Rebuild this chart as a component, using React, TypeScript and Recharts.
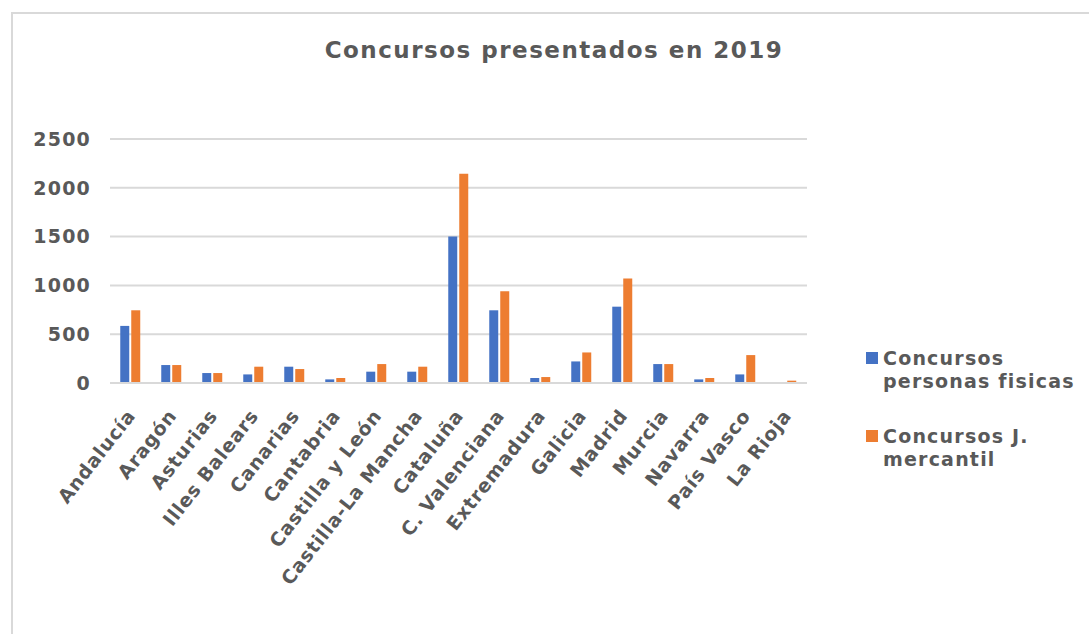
import React from 'react';
import { BarChart, Bar, XAxis, YAxis, CartesianGrid, Legend } from 'recharts';

const regions = [
  'Andalucía', 'Aragón', 'Asturias', 'Illes Balears', 'Canarias', 'Cantabria',
  'Castilla y León', 'Castilla-La Mancha', 'Cataluña', 'C. Valenciana', 'Extremadura',
  'Galicia', 'Madrid', 'Murcia', 'Navarra', 'País Vasco', 'La Rioja',
];
const personasFisicas = [585, 184, 102, 88, 167, 37, 116, 116, 1500, 745, 51, 221, 782, 194, 37, 88, 0];
const jMercantil = [745, 184, 102, 167, 143, 51, 194, 167, 2143, 939, 61, 313, 1071, 194, 51, 286, 24];
const yTicks = [0, 500, 1000, 1500, 2000, 2500];

const seriesNames = ['Concursos personas fisicas', 'Concursos J. mercantil'];
const legendLines: Record<string, string[]> = {
  'Concursos personas fisicas': ['Concursos', 'personas fisicas'],
  'Concursos J. mercantil': ['Concursos J.', 'mercantil'],
};

const data = regions.map((region, i) => ({
  region,
  personas: personasFisicas[i],
  mercantil: jMercantil[i],
}));

const FONT = '"DejaVu Sans", Verdana, sans-serif';
const TEXT = '#595959';

const RegionTick = (props: any) => {
  const { x, y, payload } = props;
  return (
    <g transform={`translate(${x + 6},${y + 31})`}>
      <text
        textAnchor="end"
        transform="rotate(-52)"
        fill={TEXT}
        fontFamily={FONT}
        fontWeight="bold"
        fontSize={19}
        letterSpacing={0.8}
      >
        {payload.value}
      </text>
    </g>
  );
};

const renderLegend = (props: any) => {
  const items = [...props.payload].sort(
    (a: any, b: any) => seriesNames.indexOf(a.value) - seriesNames.indexOf(b.value),
  );
  return (
    <div style={{ fontFamily: FONT, fontWeight: 'bold', fontSize: 19, letterSpacing: 1.2, color: TEXT, lineHeight: '23px' }}>
      {items.map((entry: any, i: number) => (
        <div key={entry.value} style={{ position: 'relative', paddingLeft: 17, marginTop: i === 0 ? 0 : 32 }}>
          <span style={{ position: 'absolute', left: 0, top: 5, width: 12, height: 12, background: entry.color }} />
          {(legendLines[entry.value] || [entry.value]).map((line) => (
            <div key={line} style={{ whiteSpace: 'nowrap' }}>{line}</div>
          ))}
        </div>
      ))}
    </div>
  );
};

export default function App() {
  return (
    <div style={{ position: 'absolute', left: 0, top: 0, width: 1089, height: 634, background: '#fff', overflow: 'hidden' }}>
      <div
        style={{
          position: 'absolute', left: 11, top: 12, width: 1200, height: 800,
          border: '2px solid #d9d9d9', boxSizing: 'border-box',
        }}
      />
      <div
        style={{
          position: 'absolute', left: 0, width: 1108, top: 37, textAlign: 'center',
          fontFamily: FONT, fontWeight: 'bold', fontSize: 23, letterSpacing: 1.5, color: TEXT,
        }}
      >
        Concursos presentados en 2019
      </div>
      <div style={{ position: 'absolute', left: 0, top: 0 }}>
        <BarChart
          width={1089}
          height={634}
          data={data}
          margin={{ top: 139, right: 62, bottom: 51, left: 0 }}
          barCategoryGap="25%"
          barGap={2}
        >
          <CartesianGrid vertical={false} stroke="#d9d9d9" strokeWidth={2} />
          <XAxis
            dataKey="region"
            interval={0}
            height={200}
            tickLine={false}
            tickSize={0}
            axisLine={{ stroke: '#d9d9d9', strokeWidth: 2 }}
            tick={<RegionTick />}
          />
          <YAxis
            width={110}
            domain={[0, 2500]}
            ticks={yTicks}
            axisLine={false}
            tickLine={false}
            tickSize={0}
            tickMargin={19}
            tick={{ fill: TEXT, fontFamily: FONT, fontWeight: 'bold', fontSize: 19, letterSpacing: 1.2 }}
          />
          <Legend
            layout="vertical"
            align="right"
            verticalAlign="top"
            content={renderLegend}
            wrapperStyle={{ left: 866, top: 347, width: 220 }}
          />
          <Bar dataKey="personas" name={seriesNames[0]} fill="#4472c4" isAnimationActive={false} />
          <Bar dataKey="mercantil" name={seriesNames[1]} fill="#ed7d31" isAnimationActive={false} />
        </BarChart>
      </div>
    </div>
  );
}
